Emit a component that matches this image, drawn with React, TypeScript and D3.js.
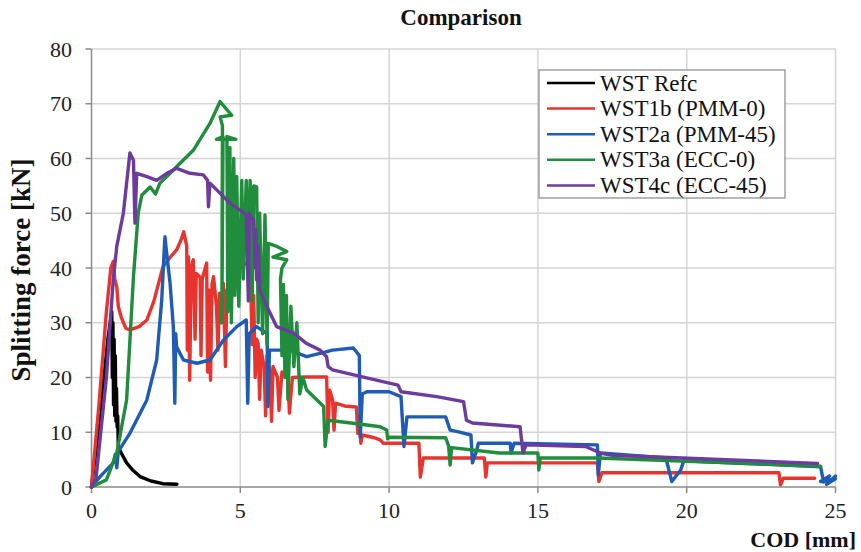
import React from 'react';
import * as d3 from 'd3';

type P = [number, number];

const seriesNames = ['WST Refc', 'WST1b (PMM-0)', 'WST2a (PMM-45)', 'WST3a (ECC-0)', 'WST4c (ECC-45)'];
const seriesColors = ['#000000', '#e8342e', '#1f5cb5', '#1f8d3c', '#6b3c9e'];
const xTicks = [0, 5, 10, 15, 20, 25];
const yTicks = [0, 10, 20, 30, 40, 50, 60, 70, 80];

const refc: P[] = [[0,0],[0.2,9],[0.4,19],[0.55,27],[0.68,32],[0.7,20],[0.72,30],[0.74,15],[0.76,27],[0.78,13],[0.8,24],[0.82,12],[0.84,18],[0.86,11],[0.88,13],[0.9,7.4],[1.0,6.2],[1.18,4.4],[1.4,3],[1.63,1.9],[2.0,1.1],[2.4,0.6],[2.87,0.5]];

const wst1b: P[] = [[0,0],[0.25,15],[0.5,32],[0.65,40],[0.73,41.2],[0.78,38],[0.85,36.5],[0.9,33],[1.0,31],[1.15,29],[1.29,28.7],[1.6,29.3],[1.86,30.5],[2.1,34],[2.4,40.2],[2.65,42],[2.86,43.3],[3.0,45],[3.1,46.6],[3.2,44],[3.22,25],[3.26,42],[3.3,19.5],[3.35,40],[3.42,41.5],[3.48,27],[3.52,39],[3.65,38.3],[3.68,24],[3.72,38],[3.87,40.9],[3.9,21],[3.95,36],[4.0,19.5],[4.05,37],[4.1,38.4],[4.2,33],[4.25,25],[4.3,35.4],[4.35,30],[4.43,37.2],[4.5,22],[4.55,36],[4.7,38],[4.88,40.2],[5.0,40.5],[5.2,40.9],[5.3,39.6],[5.35,36.5],[5.4,26],[5.45,35],[5.5,20],[5.55,27],[5.6,26.2],[5.65,16],[5.7,25],[5.8,22],[5.85,13],[5.9,24],[6.0,21],[6.05,12],[6.1,22],[6.25,20],[6.3,14],[6.4,21],[6.6,20],[6.65,13.5],[6.75,20],[7.2,20.1],[7.9,20.1],[7.95,10],[8.0,17.7],[8.1,16],[8.15,10.4],[8.2,15.3],[8.5,14.8],[8.9,14.6],[8.95,9.8],[9.0,13],[9.05,8],[9.1,9.5],[9.5,9],[9.7,8.6],[9.8,8],[11.0,8],[11.05,1.8],[11.15,5.3],[13.2,5.3],[13.25,1.8],[13.3,4.4],[17.0,4.4],[17.05,1],[17.15,2.6],[23.1,2.6],[23.15,0.4],[23.25,1.6],[24.3,1.6]];

const wst2a: P[] = [[0,0],[0.29,1.9],[0.73,4.4],[0.8,6],[0.85,3.5],[0.9,6.5],[1.29,9.8],[1.86,15.9],[2.19,23.2],[2.36,34.2],[2.45,44],[2.47,45.7],[2.5,44],[2.64,37.2],[2.75,29.3],[2.8,15.3],[2.83,28],[2.86,25.6],[3.09,23.2],[3.54,22.6],[3.98,23.2],[4.43,26.8],[4.88,29.3],[5.2,30.5],[5.25,15.3],[5.3,28],[5.55,29.3],[5.9,28],[5.93,14.7],[5.98,25],[6.22,25],[6.65,25],[7.23,23.8],[7.68,24.4],[8.1,25],[8.8,25.4],[9.0,24],[9.03,9.1],[9.1,17],[9.25,17.4],[10.0,17.4],[10.4,16.5],[10.5,7.4],[10.6,12.8],[11.9,12.8],[12.05,10.4],[12.3,10.1],[12.75,9.5],[12.8,4.4],[12.95,6.8],[13.0,8],[14.07,8.0],[14.1,6.2],[14.2,8],[15.0,7.9],[17.0,7.7],[17.03,2.2],[17.1,6.2],[19.3,5.3],[19.5,1],[19.8,3.1],[19.9,4.8],[24.5,3.7],[24.6,0.9],[24.8,2],[24.5,1],[25,1.5],[24.7,0.5],[25,2]];

const wst3a: P[] = [[0,0],[0.5,1.3],[0.85,6.2],[1.18,15.9],[1.41,38.4],[1.57,50],[1.69,53.3],[1.97,54.8],[2.15,53.5],[2.3,55.5],[2.53,56.7],[2.86,58.5],[3.42,61.5],[3.98,66.4],[4.32,70.4],[4.71,67.9],[4.32,67.6],[4.4,66],[4.38,30],[4.42,64],[4.2,63.5],[4.85,63.5],[4.55,64],[4.58,32],[4.65,62],[4.7,30],[4.78,60],[4.82,35],[4.88,56.7],[4.95,33],[5.05,56],[5.1,38],[5.2,56],[5.25,40],[5.33,56],[5.4,34],[5.45,55],[5.55,54.8],[5.6,30],[5.65,50],[5.75,28],[5.83,49.7],[5.9,26],[5.94,44.5],[6.2,44],[6.56,43],[6.1,42],[6.56,41.5],[6.4,40],[6.35,38],[6.4,24],[6.45,37],[6.5,20],[6.55,35],[6.6,16],[6.7,33],[6.8,22],[6.9,30],[7.0,17],[7.1,20],[7.23,17.7],[7.8,14.7],[7.85,7.4],[7.95,12.2],[9.0,11.5],[9.7,11],[9.92,10.4],[9.95,8.8],[10.0,9.1],[11.9,9.0],[12.0,7.5],[12.05,4],[12.1,7.2],[13.7,6.2],[15.0,6.2],[15.03,3.1],[15.08,5.3],[17.0,5.3],[24.5,3.8]];

const wst4c: P[] = [[0,0],[0.15,1.5],[0.5,20],[0.73,37.8],[0.85,44],[1.07,50],[1.29,61],[1.41,59.7],[1.46,48.2],[1.52,57.3],[1.86,56.7],[2.19,56],[2.53,57.3],[2.86,58.2],[3.31,57.3],[3.76,57],[3.9,56],[3.93,51.2],[3.98,55.5],[4.66,51.8],[5.2,49.8],[5.27,34],[5.3,50],[5.33,49.4],[5.45,48.8],[5.5,40],[5.52,47],[5.55,37.8],[5.6,44],[5.65,36],[5.89,33],[6.22,29.3],[6.79,28.1],[7.23,26.2],[7.68,25],[7.9,23.8],[7.95,22],[8.1,21.4],[9.1,20.1],[10.3,18.6],[10.4,17.4],[11.6,16.5],[12.5,15.6],[12.6,12.2],[12.8,11.7],[14.4,11.0],[14.5,6.2],[14.6,7.7],[16.6,7.4],[17.1,6.2],[17.5,5.8],[24.4,4.3]];

const seriesData: P[][] = [refc, wst1b, wst2a, wst3a, wst4c];

const FONT = '"Liberation Serif", "Times New Roman", serif';

export default function App() {
  const W = 861, H = 552;
  const x = d3.scaleLinear().domain([0, 25]).range([91.5, 835.5]);
  const y = d3.scaleLinear().domain([0, 80]).range([487, 49]);
  const line = d3.line<P>().x(d => x(d[0])).y(d => y(d[1]));
  const [x0, x1] = x.range();
  const [y0, y1] = y.range();

  return (
    <svg width={W} height={H} style={{ position: 'absolute', left: 0, top: 0, background: '#fff' }} fontFamily={FONT}>
      <rect x={0} y={0} width={W} height={H} fill="#fff" />
      {yTicks.filter(t => t > 0).map(t => (
        <line key={'gy' + t} x1={x0} x2={x1} y1={y(t)} y2={y(t)} stroke="#d4d4d4" strokeWidth={1.5} />
      ))}
      {xTicks.filter(t => t > 0).map(t => (
        <line key={'gx' + t} x1={x(t)} x2={x(t)} y1={y1} y2={y0} stroke="#d4d4d4" strokeWidth={1.5} />
      ))}
      <line x1={x0} x2={x0} y1={y1} y2={y0} stroke="#8a8a8a" strokeWidth={1.5} />
      <line x1={x0} x2={x1} y1={y0} y2={y0} stroke="#8a8a8a" strokeWidth={1.5} />
      {yTicks.map(t => (
        <g key={'ty' + t}>
          <line x1={x0 - 6} x2={x0} y1={y(t)} y2={y(t)} stroke="#8a8a8a" strokeWidth={1.5} />
          <text x={72} y={y(t)} dy="0.35em" textAnchor="end" fontSize={22} fill="#222">{t}</text>
        </g>
      ))}
      {xTicks.map(t => (
        <g key={'tx' + t}>
          <line x1={x(t)} x2={x(t)} y1={y0} y2={y0 + 6} stroke="#8a8a8a" strokeWidth={1.5} />
          <text x={x(t)} y={518} textAnchor="middle" fontSize={22} fill="#222">{t}</text>
        </g>
      ))}
      {seriesData.map((d, i) => (
        <path key={'s' + i} d={line(d) || ''} fill="none" stroke={seriesColors[i]} strokeWidth={3.4} strokeLinejoin="round" strokeLinecap="round" />
      ))}
      <text x={461} y={25} textAnchor="middle" fontSize={23} fontWeight="bold" fill="#111">Comparison</text>
      <text transform="translate(30,270) rotate(-90)" textAnchor="middle" fontSize={27} fontWeight="bold" fill="#111">Splitting force [kN]</text>
      <text x={856} y={547} textAnchor="end" fontSize={22} fontWeight="bold" fill="#111">COD [mm]</text>
      <g>
        <rect x={539} y={70} width={246} height={128} fill="#fff" stroke="#888" strokeWidth={1.2} />
        {seriesNames.map((n, i) => {
          const cy = 83 + i * 25.6;
          return (
            <g key={'lg' + i}>
              <line x1={547} x2={595} y1={cy} y2={cy} stroke={seriesColors[i]} strokeWidth={2.5} />
              <text x={600} y={cy} dy="0.33em" fontSize={23} fill="#111">{n}</text>
            </g>
          );
        })}
      </g>
    </svg>
  );
}
